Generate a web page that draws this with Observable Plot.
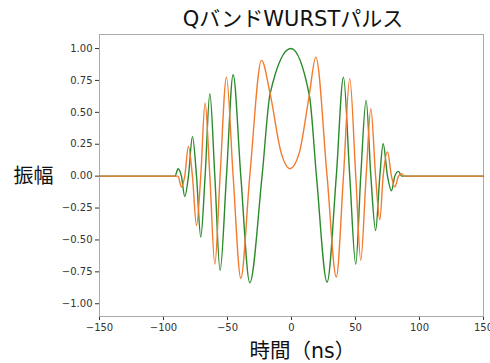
<!DOCTYPE html>
<html><head><meta charset="utf-8">
<script src="https://cdn.jsdelivr.net/npm/d3@7"></script>
<script src="https://cdn.jsdelivr.net/npm/@observablehq/plot@0.6"></script>
<style>html,body{margin:0;padding:0;background:#fff;}</style>
</head><body><div id="chart"></div>
<script>
const title = "QバンドWURSTパルス";
const xLabel = "時間（ns）";
const yLabel = "振幅";
const xTicks = [-150, -100, -50, 0, 50, 100, 150];
const yTicks = [-1, -0.75, -0.5, -0.25, 0, 0.25, 0.5, 0.75, 1];

// green component (extrema and zero crossings)
const greenX = [-150, -95, -91, -88.6, -86, -83.4, -80.5, -77.4, -74.2, -70.9, -67.5, -63.8, -59.9, -55.8, -50.8, -45.6, -39.6, -32.6, -23.0, -16.7, -0.5, 14, 19.5, 27.8, 35, 40.6, 45.5, 50.2, 54.1, 58.3, 62, 65.7, 69, 71.6, 75, 78.1, 80.7, 83.6, 86, 89, 150];
const greenY = [0, 0, 0, 0.058, 0, -0.16, 0, 0.31, 0, -0.478, 0, 0.646, 0, -0.74, 0, 0.795, 0, -0.835, 0, 0.646, 1.0, 0.63, 0, -0.83, 0, 0.776, 0, -0.69, 0, 0.594, 0, -0.426, 0, 0.254, 0, -0.115, 0, 0.037, 0, 0, 0];

// orange component
const orangeX = [-150, -93, -88.6, -86, -83.4, -80.5, -77.4, -74.2, -70.9, -67.5, -63.8, -59.9, -55.8, -50.8, -45.6, -39.6, -32.6, -23.4, -16.7, -8, -1.3, 6, 13.8, 19, 27.8, 35, 40.6, 45.5, 50.2, 54.1, 58.3, 62, 65.7, 69, 71.6, 75, 78.1, 80.7, 83.6, 85.9, 88, 150];
const orangeY = [0, 0, 0, -0.086, 0, 0.233, 0, -0.387, 0, 0.573, 0, -0.69, 0, 0.776, 0, -0.80, 0, 0.907, 0.646, 0.18, 0.058, 0.18, 0.63, 0.933, 0, -0.79, 0, 0.764, 0, -0.66, 0, 0.528, 0, -0.342, 0, 0.19, 0, -0.086, 0, 0.019, 0, 0];

const green = greenX.map((x, i) => ({x, y: greenY[i]}));
const orange = orangeX.map((x, i) => ({x, y: orangeY[i]}));

const mixFont = "'DejaVu Sans', 'Noto Sans CJK JP', sans-serif";

const chart = Plot.plot({
  width: 490, height: 363,
  marginTop: 34, marginBottom: 47, marginLeft: 99, marginRight: 7,
  style: {fontFamily: "'DejaVu Sans', sans-serif", fontSize: "10px", color: "#333", background: "#fff", overflow: "visible"},
  x: {domain: [-150, 150], ticks: xTicks, tickFormat: d3.format("d"), label: null, tickSize: 4, tickPadding: 3},
  y: {domain: [-1.1, 1.11], ticks: yTicks, tickFormat: d3.format(".2f"), label: null, tickSize: 4, tickPadding: 3},
  marks: [
    Plot.frame({stroke: "#aaa"}),
    Plot.line(green, {x: "x", y: "y", stroke: "#2b8a2b", strokeWidth: 1.4, curve: "monotone-x"}),
    Plot.line(orange, {x: "x", y: "y", stroke: "#f27b2f", strokeWidth: 1.4, curve: "monotone-x"}),
    Plot.text([title], {text: d => d, frameAnchor: "top", dy: -15, dx: 1.5, lineAnchor: "middle", textAnchor: "middle", fontSize: 21, fontFamily: mixFont, fill: "#111"}),
    Plot.text([yLabel], {text: d => d, frameAnchor: "left", dx: -66, dy: 1.5, lineAnchor: "middle", textAnchor: "middle", fontSize: 20, fontFamily: "'Noto Sans CJK JP', sans-serif", fill: "#111"}),
    Plot.text([xLabel], {text: d => d, frameAnchor: "bottom-left", dx: 150, dy: 35, lineAnchor: "middle", textAnchor: "start", fontSize: 20.5, fontFamily: mixFont, fill: "#111"})
  ]
});
document.getElementById("chart").appendChild(chart);
</script>
</body></html>
